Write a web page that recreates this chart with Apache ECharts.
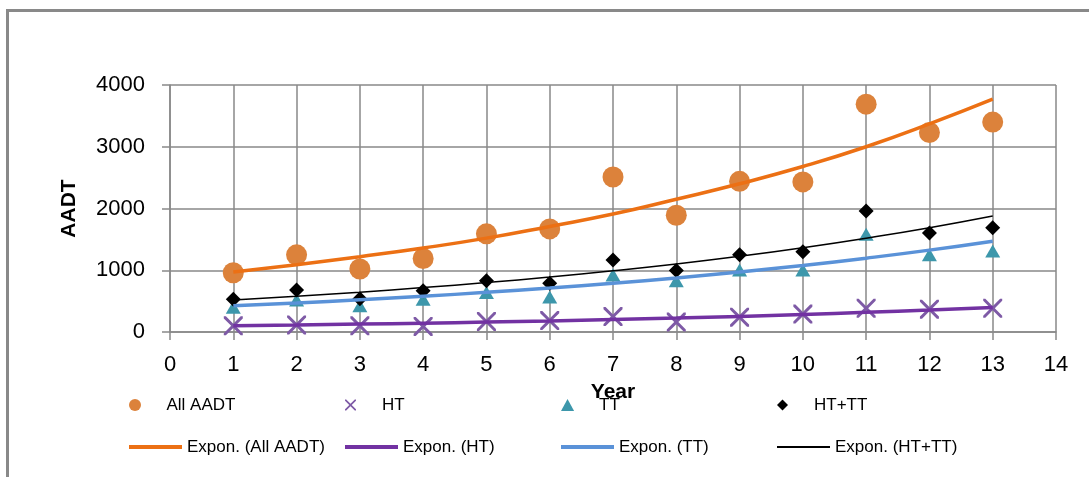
<!DOCTYPE html>
<html>
<head>
<meta charset="utf-8">
<script src="https://cdn.jsdelivr.net/npm/echarts@6/dist/echarts.min.js"></script>
<style>
html,body{margin:0;padding:0;background:#fff;}
#chart{width:1089px;height:477px;}
</style>
</head>
<body>
<div id="chart"></div>
<script>
const years = [1,2,3,4,5,6,7,8,9,10,11,12,13];
const allAADT = [960,1250,1020,1190,1590,1670,2510,1890,2440,2430,3690,3230,3400];
const ht = [100,115,100,90,170,185,250,160,240,290,385,370,385];
const tt = [400,520,425,530,640,565,925,830,1005,1005,1585,1250,1310];
const htTT = [530,680,540,670,830,790,1165,995,1250,1300,1960,1605,1690];
const expAll = [970,1090,1220,1360,1520,1710,1910,2150,2400,2680,3000,3370,3770];
const expHT = [102,114,128,143,161,180,202,226,253,284,318,356,398];
const expTT = [424,470,522,579,642,712,790,876,972,1078,1196,1326,1471];
const expHTTT = [520,580,645,720,800,890,990,1100,1225,1365,1520,1690,1880];
const xTicks = [0,1,2,3,4,5,6,7,8,9,10,11,12,13,14];
const yTicks = [0,1000,2000,3000,4000];

const pair = (xs, ys) => xs.map((x, i) => [x, ys[i]]);
const FONT = '"Liberation Sans", Arial, sans-serif';
const GRID = '#898989';

const X_PATH = 'path://M0,0L2.2,0L10,7.8L17.8,0L20,0L20,2.2L12.2,10L20,17.8L20,20L17.8,20L10,12.2L2.2,20L0,20L0,17.8L7.8,10L0,2.2Z';
const TRI_PATH = 'path://M6,0L12,11L0,11Z';
const DIA_PATH = 'path://M5,0L10,5L5,10L0,5Z';

const chart = echarts.init(document.getElementById('chart'), null, {renderer: 'canvas'});

function legendAt(name, left, top, icon, w, h) {
  return {
    data: [{name: name, icon: icon}],
    left: left, top: top, padding: 0,
    itemWidth: w, itemHeight: h,
    symbolKeepAspect: true,
    selectedMode: false,
    textStyle: {fontFamily: FONT, fontSize: 17, color: '#000'}
  };
}

chart.setOption({
  animation: false,
  backgroundColor: '#fff',
  grid: {left: 170, right: 33, top: 85, bottom: 145, containLabel: false},
  xAxis: {
    type: 'value', min: xTicks[0], max: xTicks[xTicks.length - 1], interval: 1,
    name: 'Year', nameLocation: 'middle', nameGap: 50,
    nameTextStyle: {fontFamily: FONT, fontSize: 21, fontWeight: 'bold', color: '#000'},
    axisLine: {show: true, lineStyle: {color: GRID, width: 1.5}},
    axisTick: {show: true, length: 8, lineStyle: {color: GRID, width: 1.5}},
    axisLabel: {fontFamily: FONT, fontSize: 22, color: '#000', margin: 22, showMinLabel: true, showMaxLabel: true,
                formatter: v => String(v)},
    splitLine: {show: true, lineStyle: {color: GRID, width: 1.5}}
  },
  yAxis: {
    type: 'value', min: yTicks[0], max: yTicks[yTicks.length - 1], interval: 1000,
    name: 'AADT', nameLocation: 'middle', nameGap: 90, nameRotate: 90,
    nameTextStyle: {fontFamily: FONT, fontSize: 21, fontWeight: 'bold', color: '#000'},
    axisLine: {show: true, lineStyle: {color: GRID, width: 1.5}},
    axisTick: {show: true, length: 8, lineStyle: {color: GRID, width: 1.5}},
    axisLabel: {fontFamily: FONT, fontSize: 22, color: '#000', margin: 25, formatter: v => String(v)},
    splitLine: {show: true, lineStyle: {color: GRID, width: 1.5}}
  },
  legend: [
    legendAt('All AADT', 129, 396.5, 'circle', 53, 12),
    legendAt('HT', 345, 396.5, X_PATH, 53, 11),
    legendAt('TT', 561, 396.5, TRI_PATH, 53, 12),
    legendAt('HT+TT', 777, 396.5, DIA_PATH, 53, 11),
    legendAt('Expon. (All AADT)', 129, 438.5, 'rect', 53, 4),
    legendAt('Expon. (HT)', 345, 438.5, 'rect', 53, 4),
    legendAt('Expon. (TT)', 561, 438.5, 'rect', 53, 4),
    legendAt('Expon. (HT+TT)', 777, 438.5, 'rect', 53, 2)
  ],
  graphic: [{
    type: 'polyline', silent: true, z: 100,
    shape: {points: [[7.5, 477], [7.5, 10.5], [1089, 10.5]]},
    style: {stroke: '#898989', lineWidth: 3, fill: null}
  }],
  series: [
    {name: 'All AADT', type: 'scatter', data: pair(years, allAADT), symbol: 'circle', symbolSize: 21,
     itemStyle: {color: '#DC823B', opacity: 1}, z: 2},
    {name: 'HT', type: 'scatter', data: pair(years, ht), symbol: X_PATH, symbolSize: 19,
     itemStyle: {color: '#7E5AA6', opacity: 1}, z: 2},
    {name: 'TT', type: 'scatter', data: pair(years, tt), symbol: TRI_PATH, symbolSize: [15, 13],
     itemStyle: {color: '#3D97AB', opacity: 1}, z: 2},
    {name: 'HT+TT', type: 'scatter', data: pair(years, htTT), symbol: DIA_PATH, symbolSize: 15,
     itemStyle: {color: '#000000', opacity: 1}, z: 2},
    {name: 'Expon. (All AADT)', type: 'line', data: pair(years, expAll), smooth: true, symbol: 'none',
     itemStyle: {color: '#EC7014'}, lineStyle: {color: '#EC7014', width: 3.5}, z: 3},
    {name: 'Expon. (HT)', type: 'line', data: pair(years, expHT), smooth: true, symbol: 'none',
     itemStyle: {color: '#7232A2'}, lineStyle: {color: '#7232A2', width: 3.5}, z: 3},
    {name: 'Expon. (TT)', type: 'line', data: pair(years, expTT), smooth: true, symbol: 'none',
     itemStyle: {color: '#5A92D8'}, lineStyle: {color: '#5A92D8', width: 3.5}, z: 3},
    {name: 'Expon. (HT+TT)', type: 'line', data: pair(years, expHTTT), smooth: true, symbol: 'none',
     itemStyle: {color: '#000000'}, lineStyle: {color: '#000000', width: 1.5}, z: 3}
  ]
});
</script>
</body>
</html>
